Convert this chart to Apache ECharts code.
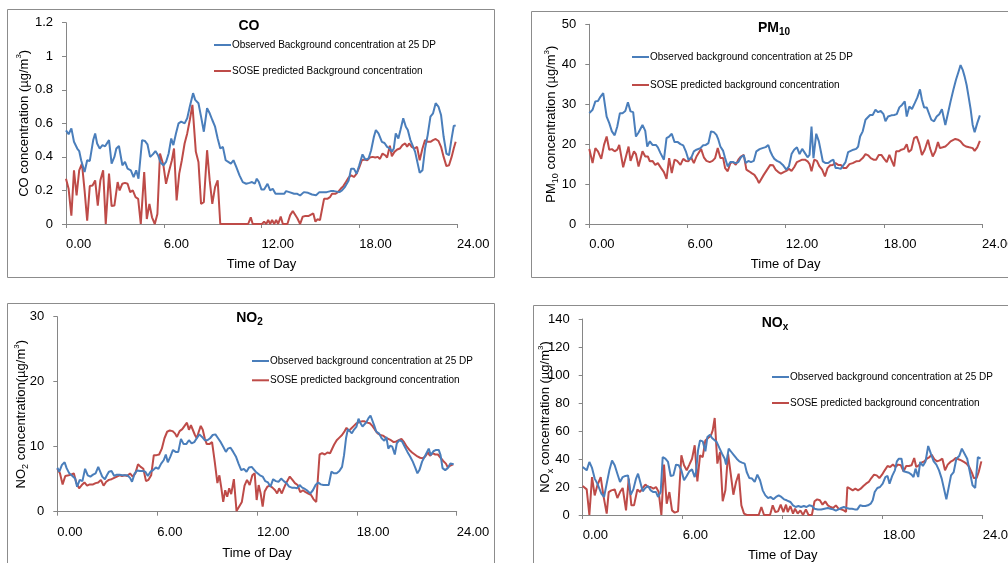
<!DOCTYPE html>
<html><head><meta charset="utf-8">
<script src="https://cdn.jsdelivr.net/npm/echarts@6/dist/echarts.min.js"></script>
<style>html,body{margin:0;padding:0;background:#fff}#c{width:1008px;height:563px}</style>
</head><body><div id="c"></div>
<script>
// ---------- data: [hour, value] ----------
const coObserved = [[0,0.558],[0.16,0.535],[0.33,0.57],[0.49,0.49],[0.69,0.45],[0.81,0.435],[0.93,0.38],[1.14,0.31],[1.3,0.38],[1.46,0.376],[1.67,0.5],[1.79,0.54],[1.91,0.48],[2.07,0.45],[2.24,0.47],[2.4,0.463],[2.52,0.47],[2.64,0.5],[2.8,0.36],[2.97,0.4],[3.09,0.45],[3.25,0.465],[3.46,0.35],[3.62,0.37],[3.78,0.33],[3.98,0.32],[4.15,0.28],[4.31,0.32],[4.45,0.27],[4.67,0.5],[4.84,0.495],[5.0,0.475],[5.16,0.4],[5.33,0.415],[5.49,0.435],[5.65,0.41],[5.81,0.365],[5.98,0.35],[6.14,0.37],[6.3,0.42],[6.46,0.51],[6.59,0.47],[6.75,0.54],[6.91,0.6],[7.07,0.61],[7.28,0.6],[7.44,0.63],[7.6,0.7],[7.8,0.78],[7.93,0.74],[8.13,0.72],[8.29,0.64],[8.46,0.55],[8.66,0.69],[8.82,0.66],[8.98,0.62],[9.15,0.58],[9.31,0.51],[9.47,0.45],[9.63,0.46],[9.8,0.38],[9.96,0.37],[10.12,0.36],[10.28,0.38],[10.45,0.34],[10.65,0.29],[10.85,0.25],[11.06,0.24],[11.26,0.245],[11.42,0.25],[11.59,0.24],[11.71,0.27],[11.84,0.25],[12.0,0.205],[12.16,0.205],[12.37,0.24],[12.53,0.2],[12.69,0.21],[12.86,0.18],[13.18,0.18],[13.39,0.18],[13.51,0.196],[13.71,0.19],[14.0,0.18],[14.2,0.18],[14.37,0.17],[14.6,0.19],[14.86,0.186],[15.1,0.176],[15.35,0.172],[15.55,0.19],[15.76,0.19],[16.0,0.19],[16.24,0.196],[16.45,0.196],[16.57,0.205],[16.78,0.19],[16.94,0.2],[17.1,0.218],[17.22,0.22],[17.35,0.26],[17.5,0.33],[17.67,0.33],[17.84,0.3],[18.0,0.35],[18.2,0.415],[18.37,0.384],[18.57,0.39],[18.73,0.44],[18.9,0.52],[19.02,0.56],[19.18,0.54],[19.39,0.49],[19.55,0.483],[19.71,0.46],[19.88,0.45],[20.0,0.43],[20.12,0.45],[20.24,0.54],[20.4,0.51],[20.53,0.56],[20.7,0.63],[20.86,0.58],[20.98,0.56],[21.14,0.5],[21.31,0.46],[21.43,0.43],[21.55,0.435],[21.71,0.305],[21.88,0.32],[22.04,0.45],[22.2,0.53],[22.37,0.64],[22.53,0.66],[22.69,0.72],[22.86,0.7],[23.02,0.65],[23.18,0.52],[23.35,0.42],[23.51,0.41],[23.67,0.51],[23.8,0.584],[23.92,0.588]];
const coPredicted = [[0,0.27],[0.16,0.21],[0.33,0.05],[0.49,0.32],[0.65,0.17],[0.81,0.32],[0.98,0.36],[1.14,0.2],[1.3,0.02],[1.46,0.226],[1.63,0.23],[1.79,0.26],[1.95,0.11],[2.11,0.26],[2.28,0.32],[2.44,0],[2.64,0.3],[2.8,0.107],[2.97,0.11],[3.17,0.25],[3.29,0.2],[3.46,0.24],[3.62,0.245],[3.78,0.24],[3.94,0.19],[4.1,0.2],[4.27,0.16],[4.43,0.15],[4.59,0],[4.8,0.31],[4.96,0.03],[5.12,0.12],[5.28,0.04],[5.45,0],[5.61,0.06],[5.77,0.42],[5.98,0.35],[6.14,0.24],[6.34,0.32],[6.5,0.38],[6.63,0.45],[6.79,0.14],[6.95,0.3],[7.11,0.38],[7.28,0.48],[7.44,0.54],[7.6,0.62],[7.76,0.71],[7.85,0.713],[7.97,0.43],[8.13,0.37],[8.29,0.12],[8.46,0.13],[8.66,0.44],[8.82,0.26],[8.98,0.12],[9.15,0.22],[9.31,0.26],[9.47,0],[11.18,0],[11.34,0.04],[11.46,0],[12.03,0],[12.16,0.014],[12.29,0],[12.41,0.024],[12.53,0],[12.65,0.024],[12.78,0],[12.9,0.024],[13.02,0],[13.18,0.044],[13.31,0],[13.59,0],[13.76,0.053],[13.92,0.077],[14.04,0.067],[14.2,0.034],[14.37,0],[14.53,0.044],[14.69,0.048],[14.9,0.048],[15.02,0.04],[15.18,0.063],[15.31,0.014],[15.43,0.028],[15.59,0.024],[15.71,0.02],[15.84,0.15],[16.04,0.15],[16.2,0.16],[16.33,0.18],[16.53,0.18],[16.69,0.19],[16.86,0.21],[17.02,0.226],[17.18,0.25],[17.35,0.277],[17.51,0.29],[17.67,0.28],[17.84,0.3],[18.0,0.337],[18.16,0.38],[18.33,0.384],[18.49,0.38],[18.65,0.396],[18.82,0.4],[18.98,0.396],[19.14,0.4],[19.27,0.388],[19.43,0.42],[19.59,0.41],[19.71,0.396],[19.88,0.467],[20.0,0.404],[20.16,0.43],[20.33,0.444],[20.49,0.45],[20.65,0.47],[20.82,0.48],[20.94,0.46],[21.06,0.48],[21.22,0.46],[21.39,0.45],[21.55,0.46],[21.71,0.38],[21.88,0.45],[22.04,0.5],[22.2,0.49],[22.37,0.49],[22.53,0.5],[22.69,0.507],[22.86,0.495],[23.02,0.46],[23.18,0.4],[23.35,0.345],[23.51,0.35],[23.67,0.4],[23.8,0.45],[23.92,0.49]];
const pmObserved = [[0,27.75],[0.2,28.6],[0.37,30.7],[0.53,30.8],[0.69,31.9],[0.85,32.75],[0.94,32.75],[1.06,26.9],[1.22,25.25],[1.38,23.2],[1.55,22.2],[1.71,24.4],[1.87,27.75],[2.03,27.75],[2.2,28.3],[2.36,30.5],[2.52,28.2],[2.68,28],[2.85,21.9],[3.01,22.9],[3.25,24.8],[3.42,23.3],[3.54,19.4],[3.7,20.7],[3.86,19.8],[4.07,19.8],[4.19,19.2],[4.35,17.75],[4.56,16.1],[4.72,21.5],[4.88,21.9],[5.04,22.6],[5.21,20.5],[5.41,20.5],[5.57,20],[5.74,19.7],[5.9,18.2],[6.06,16.1],[6.22,16.5],[6.39,18.2],[6.55,18.6],[6.67,18.2],[6.79,19],[6.96,19.7],[7.12,19.8],[7.28,20.25],[7.44,23.2],[7.61,23],[7.77,22.3],[7.89,21.1],[8.01,19.4],[8.18,18.3],[8.3,16.5],[8.46,14.4],[8.62,15.5],[8.79,15.5],[8.95,15.25],[9.11,15.5],[9.27,16.7],[9.44,17.2],[9.56,15.25],[9.72,15.8],[9.88,15.5],[10.05,15.8],[10.21,18.2],[10.41,18.75],[10.58,19],[10.78,19.25],[10.94,19.8],[11.06,18.2],[11.19,17.1],[11.31,16.3],[11.47,15.8],[11.63,15.5],[11.83,14.8],[12.04,13.6],[12.2,14.4],[12.36,17.5],[12.52,18.6],[12.69,19.2],[12.85,17.5],[13.01,18.8],[13.18,17.75],[13.34,16.7],[13.46,17.3],[13.58,24.4],[13.7,16.5],[13.87,22.6],[14.03,20.7],[14.15,18.2],[14.27,15.7],[14.44,15.25],[14.6,15.25],[14.76,15.8],[14.92,16.1],[15.05,14],[15.21,14],[15.37,13.8],[15.49,14],[15.66,15.5],[15.82,18],[15.98,18.3],[16.14,18.6],[16.31,18.8],[16.43,19.4],[16.55,21.9],[16.71,23.2],[16.88,26.1],[17.0,25.7],[17.16,27.3],[17.32,27.3],[17.49,28.6],[17.65,28],[17.81,28.3],[17.98,27.5],[18.1,25.7],[18.26,26.9],[18.46,27.2],[18.63,27.3],[18.79,27.5],[18.95,29.2],[19.11,29.8],[19.28,30.7],[19.4,26.9],[19.56,29.4],[19.72,28.8],[19.89,30.25],[20.05,31.7],[20.21,33.7],[20.33,31.1],[20.46,29.2],[20.62,29.2],[20.74,29.4],[20.9,26.1],[21.07,25.7],[21.23,26.9],[21.39,27.5],[21.55,28.75],[21.76,24.8],[21.92,27.75],[22.08,30.7],[22.25,33.6],[22.41,36.1],[22.57,38.2],[22.69,39.8],[22.82,38.6],[22.94,36.9],[23.06,34.8],[23.18,31.9],[23.31,28.6],[23.43,24.8],[23.55,23],[23.71,25.25],[23.87,27.2]];
const pmPredicted = [[0,18.8],[0.2,15.25],[0.37,19],[0.53,18.2],[0.73,16.3],[0.9,19.8],[1.06,21.9],[1.22,18.6],[1.38,18.75],[1.55,18.2],[1.71,18.6],[1.83,19.8],[2.07,14.2],[2.24,16.9],[2.4,19.4],[2.52,15.8],[2.73,18.2],[2.85,17.5],[3.01,14.4],[3.25,18.2],[3.42,16.9],[3.58,16.9],[3.7,15.7],[3.86,15.8],[4.03,14.8],[4.19,15.25],[4.39,14],[4.56,13],[4.72,11.3],[4.88,16.5],[5.04,12.75],[5.21,16.1],[5.37,15.8],[5.57,14.8],[5.74,16.3],[5.9,15.8],[6.06,15.7],[6.22,16.7],[6.39,15.25],[6.55,16.9],[6.67,16.5],[6.83,18.8],[7.0,16.7],[7.16,15.8],[7.36,15.5],[7.53,15.8],[7.69,16.5],[7.85,19],[8.01,16.5],[8.18,16.5],[8.3,14],[8.46,13.2],[8.62,15.25],[8.79,15.5],[8.95,14.8],[9.11,16.1],[9.27,16.9],[9.44,17.3],[9.6,13.6],[9.76,13.2],[9.92,12.75],[10.09,12.3],[10.25,11.3],[10.37,10.25],[10.49,10.7],[10.66,12.3],[10.82,13.3],[10.94,13],[11.06,14.8],[11.23,14.7],[11.39,13.6],[11.55,13],[11.71,12.6],[11.88,13],[12.04,13.3],[12.2,13.8],[12.36,13.3],[12.52,14.2],[12.69,15.5],[12.85,15.8],[13.01,16.1],[13.18,16.1],[13.34,15.7],[13.46,15],[13.58,13.2],[13.75,16.1],[13.91,15.8],[14.07,14.4],[14.23,13.6],[14.4,11.9],[14.56,14],[14.72,14.7],[14.88,14.8],[15.05,15.25],[15.21,14.8],[15.37,14.8],[15.53,14],[15.7,14],[15.9,15],[16.1,15.25],[16.31,15.7],[16.51,15.8],[16.71,16.5],[16.88,17.5],[17.04,17.2],[17.2,16.5],[17.37,16.1],[17.53,16.1],[17.69,17.3],[17.85,17.3],[18.02,16.3],[18.18,15.5],[18.34,17.3],[18.5,15.7],[18.63,14.4],[18.75,18.2],[18.91,18.2],[19.07,18.6],[19.24,18.8],[19.4,20],[19.52,18],[19.68,18.6],[19.85,21.5],[20.01,21.9],[20.17,20],[20.33,17.3],[20.5,18.6],[20.7,21.1],[20.82,19],[20.99,16.9],[21.15,18.2],[21.31,20.5],[21.43,19],[21.6,19.2],[21.76,19.4],[21.92,20],[22.08,20.7],[22.2,20.25],[22.37,21.3],[22.53,21.1],[22.69,20.7],[22.86,19.8],[23.02,19.4],[23.22,19.2],[23.43,19],[23.55,18.3],[23.71,19.2],[23.87,20.8]];
const no2Observed = [[0,6.77],[0.12,6.15],[0.28,7.2],[0.44,7.6],[0.56,6.7],[0.72,5.9],[0.91,5.5],[1.07,5.1],[1.19,3.85],[1.35,4.9],[1.51,4.7],[1.67,6.6],[1.83,5.6],[1.99,5.4],[2.15,5.7],[2.3,5.9],[2.46,6.9],[2.58,6.6],[2.7,5.4],[2.86,5.0],[2.98,5.6],[3.1,6.15],[3.26,6.25],[3.42,5.5],[3.58,5.7],[3.74,5.7],[3.89,5.6],[4.05,5.6],[4.21,5.6],[4.37,5.2],[4.49,4.6],[4.65,5.9],[4.81,6.35],[4.97,6.25],[5.13,6.25],[5.29,6.15],[5.44,5.5],[5.6,6.15],[5.76,6.4],[5.92,6.8],[6.08,6.6],[6.24,7.4],[6.4,7.95],[6.52,8.8],[6.64,7.6],[6.8,8.5],[6.95,9.5],[7.11,9.2],[7.27,9.2],[7.43,11.2],[7.59,10.4],[7.75,10.4],[7.91,11.0],[8.07,10.5],[8.23,10.7],[8.38,11.3],[8.54,11.9],[8.7,11.5],[8.86,11.0],[9.02,11.0],[9.18,11.3],[9.34,11.8],[9.5,11.9],[9.66,11.3],[9.82,10.7],[9.97,10.0],[10.13,9.2],[10.25,9.7],[10.41,9.85],[10.57,9.2],[10.73,8.5],[10.89,7.4],[11.05,6.4],[11.21,6.6],[11.37,6.15],[11.52,6.8],[11.68,6.9],[11.8,7.2],[11.92,6.15],[12.02,5.9],[12.18,5.6],[12.34,5.4],[12.5,4.7],[12.66,4.5],[12.81,3.85],[12.97,5.0],[13.13,4.7],[13.29,4.6],[13.45,5.1],[13.61,4.7],[13.77,4.4],[13.93,3.85],[14.09,3.7],[14.25,3.7],[14.4,3.6],[14.56,4.1],[14.72,3.7],[14.88,3.5],[15.04,3.2],[15.2,2.8],[15.36,3.3],[15.52,4.1],[15.68,4.5],[15.83,4.2],[15.99,4.1],[16.15,4.1],[16.31,4.1],[16.47,6.15],[16.63,5.9],[16.79,5.9],[16.95,6.25],[17.11,6.9],[17.23,8.7],[17.35,11.3],[17.46,12.7],[17.58,12.4],[17.7,12.05],[17.82,12.6],[17.98,13.1],[18.1,14.3],[18.22,13.6],[18.34,13.1],[18.46,13.4],[18.58,13.8],[18.7,14.4],[18.82,14.8],[18.93,14.9],[19.05,13.2],[19.17,12.3],[19.33,12.05],[19.49,11.3],[19.65,10.9],[19.77,11.5],[19.89,9.7],[20.0,10.15],[20.13,10.0],[20.28,8.8],[20.4,10.5],[20.56,11.0],[20.72,10.8],[20.88,10.0],[21.04,9.2],[21.2,8.5],[21.36,7.7],[21.52,6.7],[21.64,5.9],[21.76,6.4],[21.92,7.7],[22.08,8.5],[22.2,8.8],[22.32,9.7],[22.44,8.7],[22.6,9.3],[22.76,9.5],[22.92,9.5],[23.03,8.7],[23.15,6.7],[23.31,6.4],[23.46,6.7],[23.62,7.4],[23.74,7.2],[23.82,7.3]];
const no2Predicted = [[0,6.6],[0.16,5.9],[0.32,4.2],[0.48,5.5],[0.68,5.6],[0.83,5.7],[0.99,5.9],[1.15,4.4],[1.31,3.6],[1.47,4.1],[1.63,4.5],[1.79,4.0],[1.95,4.2],[2.15,4.2],[2.3,4.4],[2.46,4.5],[2.62,4.9],[2.78,4.0],[2.94,4.6],[3.1,4.9],[3.26,5.0],[3.42,5.2],[3.58,5.4],[3.74,5.6],[3.89,5.5],[4.05,5.6],[4.21,5.5],[4.37,5.9],[4.53,5.4],[4.69,5.9],[4.85,7.3],[5.01,6.9],[5.17,6.6],[5.33,4.7],[5.48,4.9],[5.64,5.6],[5.8,8.7],[5.96,8.7],[6.12,8.8],[6.28,9.7],[6.44,11.3],[6.6,12.3],[6.76,12.5],[6.92,12.4],[7.07,12.05],[7.19,11.5],[7.35,12.4],[7.51,12.7],[7.63,12.7],[7.79,13.7],[7.91,12.6],[8.03,13.3],[8.15,13.4],[8.27,11.8],[8.38,11.3],[8.5,12.3],[8.62,13.2],[8.74,12.6],[8.86,11.3],[8.98,10.4],[9.14,10.4],[9.3,10.7],[9.46,7.7],[9.62,4.4],[9.74,5.6],[9.86,3.6],[9.97,1.5],[10.09,3.3],[10.21,2.3],[10.33,3.6],[10.45,2.7],[10.61,5.0],[10.77,0.1],[10.93,0.8],[11.09,1.5],[11.25,4.0],[11.4,4.9],[11.56,4.1],[11.72,5.6],[11.86,5.9],[11.98,1.8],[12.1,4.1],[12.22,2.8],[12.34,0.77],[12.46,3.1],[12.62,3.85],[12.77,4.0],[12.93,3.7],[13.09,3.3],[13.21,2.8],[13.33,3.6],[13.49,2.8],[13.61,3.6],[13.77,4.5],[13.97,5.4],[14.13,4.9],[14.28,4.4],[14.44,4.1],[14.6,3.0],[14.76,3.3],[14.92,3.0],[15.08,2.8],[15.24,2.6],[15.4,1.9],[15.56,1.5],[15.68,1.4],[15.76,8.8],[15.91,9.0],[16.07,8.8],[16.23,9.1],[16.39,9.0],[16.51,9.2],[16.63,10.3],[16.79,11.0],[16.95,11.4],[17.11,11.8],[17.27,12.4],[17.38,12.9],[17.5,12.4],[17.66,12.8],[17.82,13.2],[17.98,13.6],[18.14,13.8],[18.3,13.9],[18.46,13.9],[18.62,13.7],[18.78,13.6],[18.93,13.2],[19.09,12.6],[19.25,12.05],[19.41,11.8],[19.57,11.7],[19.73,11.4],[19.89,11.2],[20.05,11.0],[20.21,10.7],[20.37,10.8],[20.52,11.0],[20.68,11.2],[20.84,10.7],[21.0,10.0],[21.16,9.5],[21.32,9.1],[21.48,8.8],[21.64,8.5],[21.8,8.3],[21.95,8.2],[22.11,8.5],[22.27,9.1],[22.39,8.6],[22.55,9.0],[22.71,8.8],[22.87,8.8],[23.03,8.3],[23.19,7.8],[23.35,7.4],[23.47,6.8],[23.62,7.1],[23.78,7.3]];
const noxObserved = [[0,34.3],[0.24,31.9],[0.4,37.9],[0.56,33.6],[0.72,26],[0.88,22.4],[1.0,22.4],[1.12,15.2],[1.28,12.9],[1.44,22.4],[1.6,31.9],[1.76,39],[1.92,35.5],[2.08,29.5],[2.24,23.6],[2.4,27.1],[2.56,27.9],[2.72,28.3],[2.88,14.5],[3.04,18.3],[3.2,26],[3.32,29.5],[3.44,30.2],[3.6,16.9],[3.76,19.3],[3.92,20.7],[4.08,17.6],[4.24,16.4],[4.4,16.4],[4.52,12.9],[4.68,16.4],[4.8,41.4],[4.96,40.2],[5.12,37.9],[5.28,27.9],[5.44,28.3],[5.6,36],[5.76,35.5],[5.92,31.9],[6.08,24.8],[6.24,27.9],[6.4,31.2],[6.56,32.6],[6.72,27.1],[6.8,30.7],[6.92,46.2],[7.04,53.3],[7.2,52.6],[7.36,45.5],[7.48,55.7],[7.64,57.4],[7.76,55],[7.88,56.4],[8.04,52.1],[8.2,47.9],[8.36,43.8],[8.52,40.2],[8.6,36],[8.76,47.4],[8.92,45],[9.08,42.6],[9.24,40.2],[9.4,38.3],[9.56,37.4],[9.72,36.7],[9.84,30.7],[10.0,26.4],[10.16,26],[10.32,23.6],[10.48,28.8],[10.64,24.8],[10.8,17.6],[10.96,14],[11.12,12.1],[11.28,12.9],[11.44,11.2],[11.6,12.9],[11.76,14],[11.92,12.9],[12.08,11.2],[12.24,10.5],[12.46,9.3],[12.62,6.9],[12.78,5.7],[12.94,6.4],[13.1,5.7],[13.27,6.4],[13.43,5.7],[13.59,6.9],[13.75,6.4],[13.91,4.5],[14.11,4],[14.31,4],[14.51,4.5],[14.71,5],[14.87,4.5],[15.03,4],[15.19,3.1],[15.35,4],[15.51,5],[15.67,5.7],[15.84,5],[16.0,4.5],[16.16,4.5],[16.32,4],[16.48,4],[16.64,6.9],[16.8,6.4],[16.96,6.4],[17.12,6.9],[17.28,8.1],[17.4,10.5],[17.52,16.4],[17.68,19.3],[17.84,20],[18.0,22.4],[18.16,27.1],[18.29,27.9],[18.41,22.4],[18.57,27.9],[18.73,31.9],[18.85,38.3],[18.97,40.2],[19.13,40.2],[19.25,31.2],[19.41,30.7],[19.57,30.2],[19.73,28.8],[19.85,27.1],[19.97,33.1],[20.13,27.1],[20.25,37.9],[20.41,35],[20.57,38.3],[20.73,49.3],[20.89,43.8],[21.06,38.3],[21.22,36],[21.38,31.9],[21.54,26],[21.66,24.8],[21.82,11.2],[21.94,12.1],[22.1,28.3],[22.26,30.7],[22.42,40.2],[22.59,42.1],[22.75,47.4],[22.91,43.8],[23.07,40.2],[23.23,30.7],[23.39,21.2],[23.55,19.3],[23.71,41.4],[23.87,40.2]];
const noxPredicted = [[0,20.7],[0.24,18.3],[0.4,0],[0.56,27.1],[0.72,14],[0.88,21.2],[1.08,27.1],[1.24,14],[1.44,1],[1.56,16.4],[1.72,17.6],[1.92,18.3],[2.08,12.1],[2.24,16.4],[2.4,19.3],[2.6,3.3],[2.76,26],[2.92,6.9],[3.08,6.9],[3.28,18.3],[3.44,16.4],[3.6,19.3],[3.76,21.7],[3.92,20],[4.08,20],[4.24,18.8],[4.4,20],[4.56,16.4],[4.72,0],[4.88,36],[5.04,8.1],[5.2,16.4],[5.36,3.3],[5.52,1.7],[5.72,2.6],[5.92,42.6],[6.08,35.5],[6.24,31.9],[6.4,36],[6.56,40.2],[6.72,49.8],[6.88,24],[7.04,42.6],[7.2,41.4],[7.36,53.3],[7.52,55],[7.68,56.4],[7.8,60.5],[7.92,69.3],[8.08,36.7],[8.24,45],[8.4,9.8],[8.56,17.6],[8.72,43.8],[8.88,29.5],[9.04,14.5],[9.2,23.6],[9.36,29.5],[9.52,6.9],[9.68,1],[9.84,0],[10.56,0],[10.72,5.7],[10.88,0],[11.24,0],[11.4,6.9],[11.56,2.1],[11.72,2.6],[11.88,7.4],[12.04,2.1],[12.2,7.4],[12.3,2.1],[12.46,6.4],[12.62,1],[12.74,4.5],[12.9,1],[13.06,3.3],[13.22,0],[13.39,4],[13.55,0],[13.75,0],[13.91,9.8],[14.07,11.2],[14.23,10.5],[14.39,7.4],[14.55,9.8],[14.71,6.9],[14.87,5.7],[15.03,5],[15.19,6.9],[15.35,4.5],[15.51,4],[15.67,3.3],[15.8,2.1],[15.88,20],[16.04,18.8],[16.2,17.6],[16.36,18.8],[16.52,17.6],[16.68,18.8],[16.84,20.7],[17.0,22.4],[17.16,23.6],[17.32,26.4],[17.48,28.8],[17.64,28.3],[17.8,26.4],[17.96,28.8],[18.12,31.9],[18.29,35],[18.45,34.3],[18.61,36],[18.77,34.3],[18.93,36],[19.09,35.5],[19.25,31.2],[19.41,35],[19.57,35],[19.73,35.5],[19.89,40.7],[20.01,34.3],[20.17,35.5],[20.33,37.4],[20.49,38.3],[20.65,40.2],[20.81,41.4],[20.94,43.1],[21.1,39.8],[21.26,38.3],[21.42,39],[21.58,40.2],[21.74,31.9],[21.9,36],[22.06,37.9],[22.22,39],[22.38,40.7],[22.55,39.8],[22.71,39],[22.87,37.9],[23.03,36.7],[23.19,34.3],[23.35,30.2],[23.47,26.4],[23.63,26.4],[23.76,30.7],[23.92,38.3]];

const timeTicks = [0, 6, 12, 18, 24];
const yMax = [1.2, 50, 30, 140];
const yStep = [0.2, 10, 10, 20];
const obsNames = ['Observed Background concentration at 25 DP', 'Observed background concentration at 25 DP'];
const predNames = ['SOSE predicted Background concentration', 'SOSE predicted background concentration'];

// ---------- layout / style ----------
const FONT = "'Liberation Sans', Arial, sans-serif";
const AX = '#868686';
const BLUE = '#4a7ebb', RED = '#be4b48';

const grids = [
  {left: 66, top: 22.7, width: 391, height: 201.3},
  {left: 589.3, top: 24.3, width: 392.7, height: 199.7},
  {left: 57.3, top: 316.7, width: 399.4, height: 195},
  {left: 582.7, top: 319, width: 400, height: 196}
];
const yNameGap = [33, 29, 27, 28];
const xNameGap = [34, 34, 35, 34];

const nameRich = {
  n: {fontSize: 13, fontFamily: FONT, color: '#000', lineHeight: 18},
  p: {fontSize: 8, fontFamily: FONT, color: '#000', verticalAlign: 'top', lineHeight: 8},
  b: {fontSize: 9, fontFamily: FONT, color: '#000', verticalAlign: 'bottom', lineHeight: 9}
};
const yNames = [
  '{n|CO concentration (µg/m}{p|3}{n|)}',
  '{n|PM}{b|10}{n| concentration (µg/m}{p|3}{n|)}',
  '{n|NO}{b|2}{n| concentration(µg/m}{p|3}{n|)}',
  '{n|NO}{b|x}{n| concentration (µg/m}{p|3}{n|)}'
];

const xAxes = grids.map((g, i) => ({
  gridIndex: i, type: 'value', min: 0, max: 24, interval: 6,
  axisLine: {show: true, onZero: false, lineStyle: {color: AX, width: 1}},
  axisTick: {show: true, length: 4, lineStyle: {color: AX}},
  splitLine: {show: false},
  axisLabel: {formatter: v => timeTicks.includes(v) ? v.toFixed(2) : '', align: 'left', margin: 14,
    color: '#000', fontSize: 13, fontFamily: FONT, showMaxLabel: true, showMinLabel: true},
  name: 'Time of Day', nameLocation: 'middle', nameGap: xNameGap[i], nameMoveOverlap: false,
  nameTextStyle: {fontSize: 13, fontFamily: FONT, color: '#000'}
}));
const yAxes = grids.map((g, i) => ({
  gridIndex: i, type: 'value', min: 0, max: yMax[i], interval: yStep[i],
  axisLine: {show: true, onZero: false, lineStyle: {color: AX, width: 1}},
  axisTick: {show: true, length: 4, lineStyle: {color: AX}},
  splitLine: {show: false},
  axisLabel: {margin: 13, color: '#000', fontSize: 13, fontFamily: FONT},
  name: yNames[i], nameLocation: 'middle', nameGap: yNameGap[i], nameMoveOverlap: false,
  nameTextStyle: {rich: nameRich}
}));

const allData = [[coObserved, coPredicted], [pmObserved, pmPredicted], [no2Observed, no2Predicted], [noxObserved, noxPredicted]];
const series = [];
allData.forEach((pair, i) => {
  const k = i === 0 ? 0 : 1;
  series.push({type: 'line', name: obsNames[k], data: pair[0], xAxisIndex: i, yAxisIndex: i, symbol: 'none',
    lineStyle: {width: 2, color: BLUE}, itemStyle: {color: BLUE}, animation: false, z: 3});
  series.push({type: 'line', name: predNames[k], data: pair[1], xAxisIndex: i, yAxisIndex: i, symbol: 'none',
    lineStyle: {width: 2, color: RED}, itemStyle: {color: RED}, animation: false, z: 2});
});

const legendPos = [
  {left: 214, top: 38, gap: 12},
  {left: 632, top: 50, gap: 14},
  {left: 252, top: 354, gap: 5.3},
  {left: 772, top: 370, gap: 12}
];
const legends = legendPos.map((p, i) => {
  const k = i === 0 ? 0 : 1;
  return {data: [obsNames[k], predNames[k]], left: p.left, top: p.top, orient: 'vertical', itemGap: p.gap,
    padding: 0, icon: 'rect', itemWidth: 17, itemHeight: 2, selectedMode: false,
    textStyle: {fontSize: 10, fontFamily: FONT, color: '#000', lineHeight: 14, padding: [0, 0, 0, -4]}};
});

const titleRich = {
  a: {fontSize: 14, fontWeight: 'bold', fontFamily: FONT, color: '#000', lineHeight: 18},
  s: {fontSize: 10, fontWeight: 'bold', fontFamily: FONT, color: '#000', verticalAlign: 'bottom', lineHeight: 10}
};
const titles = [
  {x: 249, y: 26, t: '{a|CO}'},
  {x: 774, y: 28, t: '{a|PM}{s|10}'},
  {x: 249.5, y: 318, t: '{a|NO}{s|2}'},
  {x: 775, y: 323, t: '{a|NO}{s|x}'}
];
const frames = [
  {x: 7.5, y: 9.5, width: 487, height: 268},
  {x: 531.5, y: 11.5, width: 500, height: 266},
  {x: 7.5, y: 303.5, width: 487, height: 300},
  {x: 533.5, y: 305.5, width: 500, height: 300}
];
const graphics = frames.map(f => ({type: 'rect', shape: f, style: {fill: 'none', stroke: '#8c8c8c', lineWidth: 1}, z: -1, silent: true}))
  .concat(titles.map(t => ({type: 'text', x: t.x, y: t.y, style: {text: t.t, rich: titleRich, align: 'center', verticalAlign: 'middle'}, z: 10})));

const chart = echarts.init(document.getElementById('c'), null, {renderer: 'canvas'});
chart.setOption({
  backgroundColor: '#fff',
  animation: false,
  grid: grids.map(g => Object.assign({containLabel: false, outerBoundsMode: 'none'}, g)),
  xAxis: xAxes,
  yAxis: yAxes,
  legend: legends,
  graphic: graphics,
  series: series
});
</script></body></html>
